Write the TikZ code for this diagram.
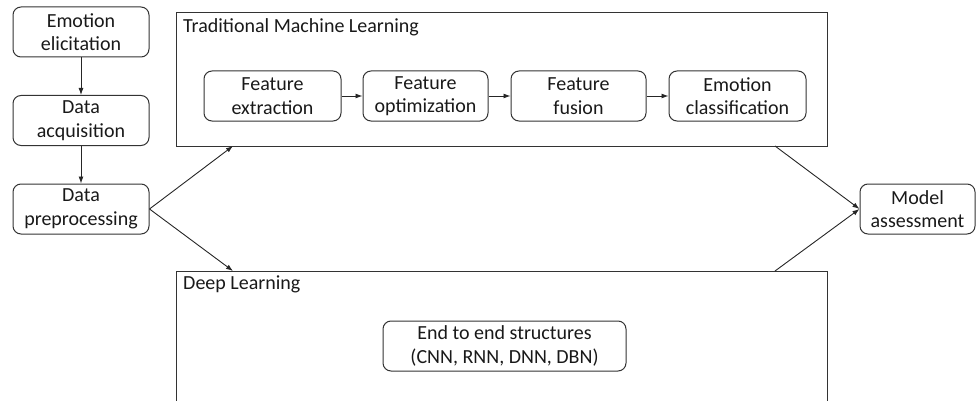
\documentclass[tikz,border=0pt]{standalone}
\usepackage{fontspec}
\setmainfont{Carlito}
\usetikzlibrary{arrows.meta}
\begin{document}
\begin{tikzpicture}[x=1pt,y=-1pt,
  every node/.style={font=\fontsize{20}{23.5}\selectfont, text=black!90},
  stage/.style={draw=black!80, line width=1pt, rounded corners=8pt, align=center,
    inner sep=0pt, minimum height=50pt},
  panel/.style={draw=black!80, line width=1pt},
  flow/.style={draw=black!85, line width=0.9pt, -{Latex[length=7pt,width=5pt]}}]
\clip (0,0) rectangle (976,401);

% left column
\node[stage, minimum width=136pt] (ee) at (81,32) {Emotion\\elicitation};
\node[stage, minimum width=136pt] (da) at (81,120.5) {Data\\acquisition};
\node[stage, minimum width=136pt] (dp) at (81,209) {Data\\preprocessing};

% traditional machine learning panel
\node[panel, minimum width=651pt, minimum height=133pt, inner sep=0pt] (tml) at (501.5,79.5) {};
\node[anchor=north west, inner sep=0pt] (tmlt) at (183,18) {Traditional Machine Learning};
\node[stage, minimum width=137pt] (fe) at (272.5,96) {Feature\\extraction};
\node[stage, minimum width=125pt] (fo) at (425.5,96) {Feature\\optimization};
\node[stage, minimum width=135pt] (ff) at (578.5,96) {Feature\\fusion};
\node[stage, minimum width=137pt] (ec) at (737.5,96) {Emotion\\classification};

% deep learning panel (continues below)
\node[panel, minimum width=651pt, minimum height=200pt, inner sep=0pt] (dl) at (501.5,371) {};
\node[anchor=north west, inner sep=0pt] (dlt) at (183,276) {Deep Learning};
\node[stage, minimum width=243pt] (eos) at (504.5,346) {End to end structures\\(CNN, RNN, DNN, DBN)};

% assessment
\node[stage, minimum width=115pt] (ma) at (917.5,209) {Model\\assessment};

% anchor points on the panel edges
\coordinate (tmlin) at (233,146);
\coordinate (dlin) at (233,271);
\coordinate (tmlout) at (775,146);
\coordinate (dlout) at (775,271);

% connectors
\draw[flow] (ee) -- (da);
\draw[flow] (da) -- (dp);
\draw[flow] (fe) -- (fo);
\draw[flow] (fo) -- (ff);
\draw[flow] (ff) -- (ec);
\draw[flow] (dp.east) -- (tmlin);
\draw[flow] (dp.east) -- (dlin);
\draw[flow] (tmlout) -- (ma.west);
\draw[flow] (dlout) -- (ma.west);
\end{tikzpicture}
\end{document}
